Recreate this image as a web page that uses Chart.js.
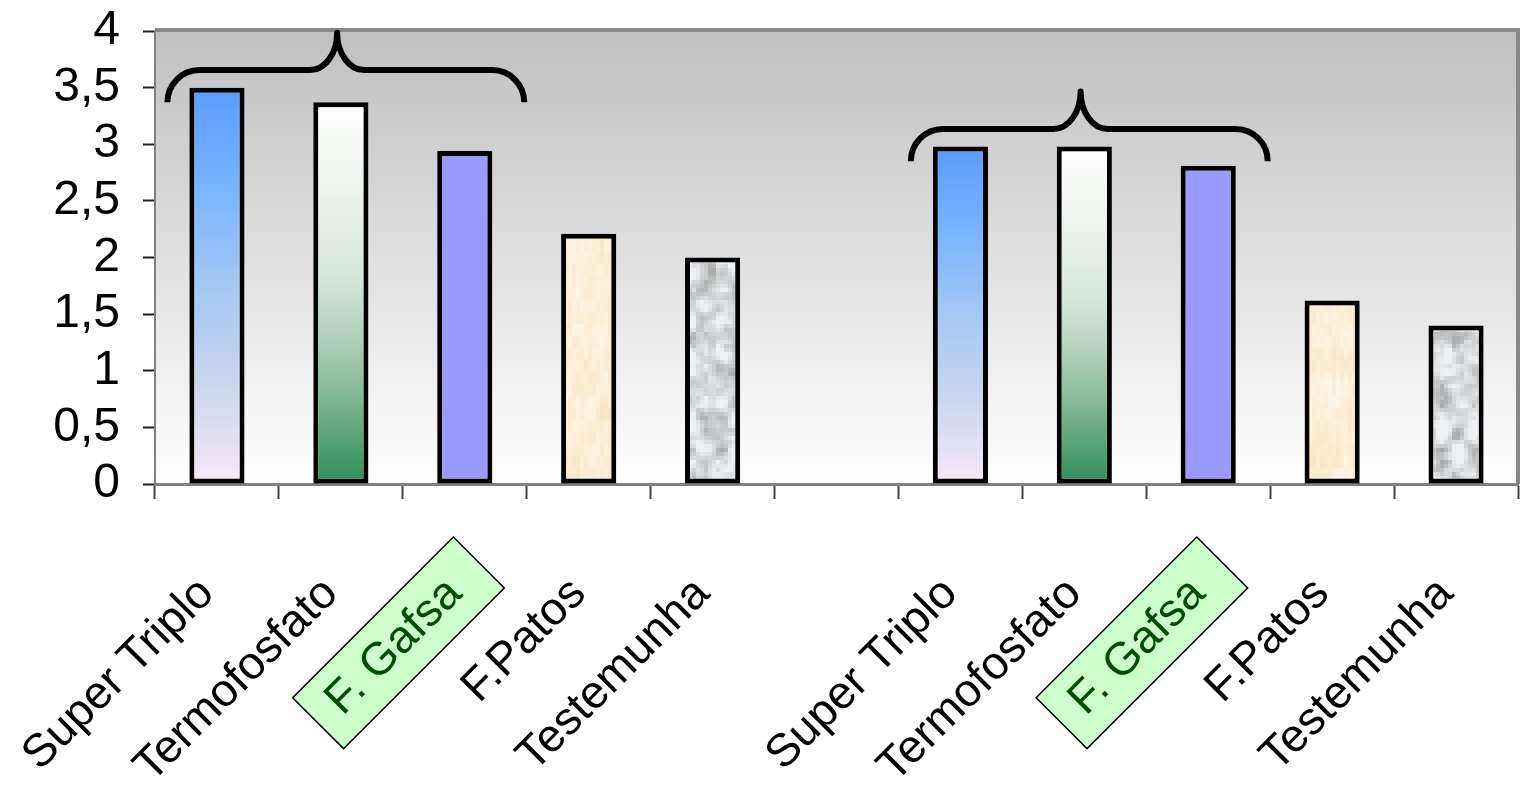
<!DOCTYPE html>
<html>
<head>
<meta charset="utf-8">
<script src="https://cdn.jsdelivr.net/npm/chart.js@4.4.1/dist/chart.umd.min.js"></script>
<style>
  html, body { margin: 0; padding: 0; background: #ffffff; }
  #wrap { width: 1524px; height: 788px; }
</style>
</head>
<body>
<div id="wrap"><canvas id="c" width="1524" height="788"></canvas></div>
<script>
// Phosphate sources, two trials separated by an empty slot
const categories = ['Super Triplo', 'Termofosfato', 'F. Gafsa', 'F.Patos', 'Testemunha', '',
                    'Super Triplo', 'Termofosfato', 'F. Gafsa', 'F.Patos', 'Testemunha'];
const values = [3.5, 3.37, 2.94, 2.21, 2.0, null, 2.98, 2.98, 2.81, 1.62, 1.4];
const yTickValues = [0, 0.5, 1, 1.5, 2, 2.5, 3, 3.5, 4];
// bars grouped under a curly brace (indices into categories)
const bracedGroups = [[0, 1, 2], [6, 7, 8]];
const highlightedLabel = 'F. Gafsa';

const FONT = '"Liberation Sans", Arial, Helvetica, sans-serif';
const X_FONT_SIZE = 46;
const canvas = document.getElementById('c');
const ctx2d = canvas.getContext('2d');

// ---- textures for the last two bars of each trial ----
function hash(i, j, s) {
  const n = Math.sin(i * 12.9898 + j * 78.233 + s * 37.719) * 43758.5453;
  return n - Math.floor(n);
}
function valueNoise(x, y, seed) {
  const xi = Math.floor(x), yi = Math.floor(y), xf = x - xi, yf = y - yi;
  const sm = t => t * t * (3 - 2 * t);
  const a = hash(xi, yi, seed), b = hash(xi + 1, yi, seed);
  const c = hash(xi, yi + 1, seed), d = hash(xi + 1, yi + 1, seed);
  const u = sm(xf), v = sm(yf);
  return a + (b - a) * u + (c - a) * v + (a - b - c + d) * u * v;
}
function mix(c1, c2, t) {
  t = Math.max(0, Math.min(1, t));
  const r = Math.round(c1[0] + (c2[0] - c1[0]) * t);
  const g = Math.round(c1[1] + (c2[1] - c1[1]) * t);
  const b = Math.round(c1[2] + (c2[2] - c1[2]) * t);
  return 'rgb(' + r + ',' + g + ',' + b + ')';
}
function makeTexture(shade) {
  const cell = 4, w = 1524, h = 520;
  const tile = document.createElement('canvas');
  tile.width = w; tile.height = h;
  const g = tile.getContext('2d');
  for (let j = 0; j < h / cell; j++) {
    for (let i = 0; i < w / cell; i++) {
      g.fillStyle = shade(i, j);
      g.fillRect(i * cell, j * cell, cell, cell);
    }
  }
  return ctx2d.createPattern(tile, 'repeat');
}
// papyrus-like beige
const papyrus = makeTexture((i, j) => {
  const t = 0.45 * hash(i, Math.floor(j / 3), 1) + 0.55 * valueNoise(i / 3, j / 6, 2);
  return mix([254, 248, 234], [249, 228, 194], t);
});
// grey marble
const marble = makeTexture((i, j) => {
  const n = 0.6 * valueNoise(i / 4, j / 4, 3) + 0.4 * valueNoise(i / 1.6, j / 1.6, 4);
  const t = (n - 0.3) / 0.55;
  return t < 0.5 ? mix([238, 241, 244], [204, 206, 208], t * 2)
                 : mix([204, 206, 208], [168, 168, 168], (t - 0.5) * 2);
});

function barFill(context) {
  const chart = context.chart;
  const name = categories[context.dataIndex];
  const v = context.raw;
  if (name === 'F. Gafsa') return '#9999ff';
  if (name === 'F.Patos') return papyrus;
  if (name === 'Testemunha') return marble;
  const y = chart.scales && chart.scales.y;
  if (!y || !chart.chartArea || v == null) return '#9999ff';
  const top = y.getPixelForValue(v), base = y.getPixelForValue(0);
  const g = chart.ctx.createLinearGradient(0, top, 0, base);
  if (name === 'Super Triplo') {
    g.addColorStop(0, '#5a9cff');
    g.addColorStop(0.25, '#78b4ff');
    g.addColorStop(0.5, '#a4c8f4');
    g.addColorStop(0.75, '#cad6ee');
    g.addColorStop(1, '#f8e8f8');
  } else {
    g.addColorStop(0, '#ffffff');
    g.addColorStop(0.2, '#f0f4f0');
    g.addColorStop(0.45, '#d6e7dc');
    g.addColorStop(0.6, '#b5d3bf');
    g.addColorStop(0.75, '#88bb99');
    g.addColorStop(0.9, '#52a070');
    g.addColorStop(1, '#2e8b57');
  }
  return g;
}

// ---- plot background, frame, label box ----
const plotFrame = {
  id: 'plotFrame',
  beforeDraw(chart) {
    const { ctx, chartArea: a, scales } = chart;
    ctx.save();
    const g = ctx.createLinearGradient(0, a.top, 0, a.bottom);
    g.addColorStop(0, '#c0c0c0');
    g.addColorStop(1, '#ffffff');
    ctx.fillStyle = g;
    ctx.fillRect(a.left, a.top, a.right - a.left, a.bottom - a.top);
    ctx.strokeStyle = '#888888';
    ctx.lineWidth = 4;
    ctx.beginPath();
    ctx.moveTo(a.left, a.top - 1);
    ctx.lineTo(a.right, a.top - 1);
    ctx.lineTo(a.right, a.bottom);
    ctx.stroke();

    // green box behind the highlighted tick label
    const x = scales.x;
    const rot = -Math.PI / 4;
    const lh = X_FONT_SIZE * 1.2;
    ctx.font = X_FONT_SIZE + 'px ' + FONT;
    categories.forEach((name, i) => {
      if (name !== highlightedLabel) return;
      const w = ctx.measureText(name).width;
      const ax = x.getPixelForValue(i) + x.options.ticks.labelOffset + (lh / 2) * Math.sin(rot);
      const ay = x.top + x.options.grid.tickLength + x.options.ticks.padding;
      ctx.save();
      ctx.translate(ax, ay);
      ctx.rotate(rot);
      const bx = -w - 22, bw = w + 56;
      const by = lh / 2 - 36, bh = 72;
      ctx.fillStyle = '#ccffcc';
      ctx.fillRect(bx, by, bw, bh);
      ctx.strokeStyle = '#000000';
      ctx.lineWidth = 1.5;
      ctx.strokeRect(bx, by, bw, bh);
      ctx.restore();
    });
    ctx.restore();
  }
};

// ---- curly braces above grouped bars ----
const braces = {
  id: 'braces',
  afterDatasetsDraw(chart) {
    const { ctx, scales: { x, y } } = chart;
    const cw = x.getPixelForValue(1) - x.getPixelForValue(0);
    ctx.save();
    ctx.strokeStyle = '#000000';
    ctx.lineWidth = 6;
    ctx.lineCap = 'butt';
    ctx.lineJoin = 'round';
    bracedGroups.forEach(group => {
      const top = Math.max(...group.map(i => values[i]));
      const xl = x.getPixelForValue(group[0]) - 0.4 * cw;
      const xr = x.getPixelForValue(group[group.length - 1]) + 0.48 * cw;
      const xm = (xl + xr) / 2 - 0.07 * cw;
      const yEnd = y.getPixelForValue(top - 0.13);
      const yLine = y.getPixelForValue(top + 0.155);
      const yPeak = y.getPixelForValue(top + 0.485);
      const k = 0.552;
      const rx = 32, ry = yEnd - yLine;
      const cx = 27, cy = yLine - yPeak;
      ctx.beginPath();
      ctx.moveTo(xl, yEnd);
      ctx.bezierCurveTo(xl, yLine + ry * (1 - k), xl + rx * (1 - k), yLine, xl + rx, yLine);
      ctx.lineTo(xm - cx, yLine);
      ctx.bezierCurveTo(xm - cx + cx * k, yLine, xm, yPeak + cy * k, xm, yPeak);
      ctx.bezierCurveTo(xm, yPeak + cy * k, xm + cx - cx * k, yLine, xm + cx, yLine);
      ctx.lineTo(xr - rx, yLine);
      ctx.bezierCurveTo(xr - rx * (1 - k), yLine, xr, yLine + ry * (1 - k), xr, yEnd);
      ctx.stroke();
    });
    ctx.restore();
  }
};

new Chart(canvas, {
  type: 'bar',
  data: {
    labels: categories,
    datasets: [{
      data: values,
      backgroundColor: barFill,
      borderColor: '#000000',
      borderWidth: 5,
      borderSkipped: false,
      barPercentage: 0.445,
      categoryPercentage: 1.0
    }]
  },
  options: {
    responsive: false,
    animation: false,
    devicePixelRatio: 1,
    layout: { padding: { top: 31, right: 6, left: 0, bottom: 0 } },
    plugins: { legend: { display: false }, tooltip: { enabled: false } },
    scales: {
      x: {
        offset: true,
        grid: { display: true, drawOnChartArea: false, drawTicks: true, tickLength: 15,
                tickColor: '#444444', tickWidth: 2, offset: true },
        border: { display: true, color: '#808080', width: 3 },
        ticks: {
          autoSkip: false, minRotation: 45, maxRotation: 45, padding: 68, labelOffset: -10,
          font: { family: FONT, size: X_FONT_SIZE },
          color: c => (categories[c.index] === highlightedLabel ? '#004d00' : '#000000')
        },
        afterFit: s => { s.height = 304; s.paddingLeft = 0; s.paddingRight = 0; }
      },
      y: {
        min: 0, max: 4,
        afterBuildTicks: s => { s.ticks = yTickValues.map(v => ({ value: v })); },
        grid: { display: true, drawOnChartArea: false, drawTicks: true, tickLength: 12,
                tickColor: '#222222', tickWidth: 2 },
        border: { display: true, color: '#808080', width: 2 },
        ticks: {
          autoSkip: false, padding: 23, color: '#000000',
          font: { family: FONT, size: 48 },
          callback: v => String(v).replace('.', ',')
        },
        afterFit: s => { s.width = 155; s.paddingTop = 0; s.paddingBottom = 0; }
      }
    }
  },
  plugins: [plotFrame, braces]
});
</script>
</body>
</html>
